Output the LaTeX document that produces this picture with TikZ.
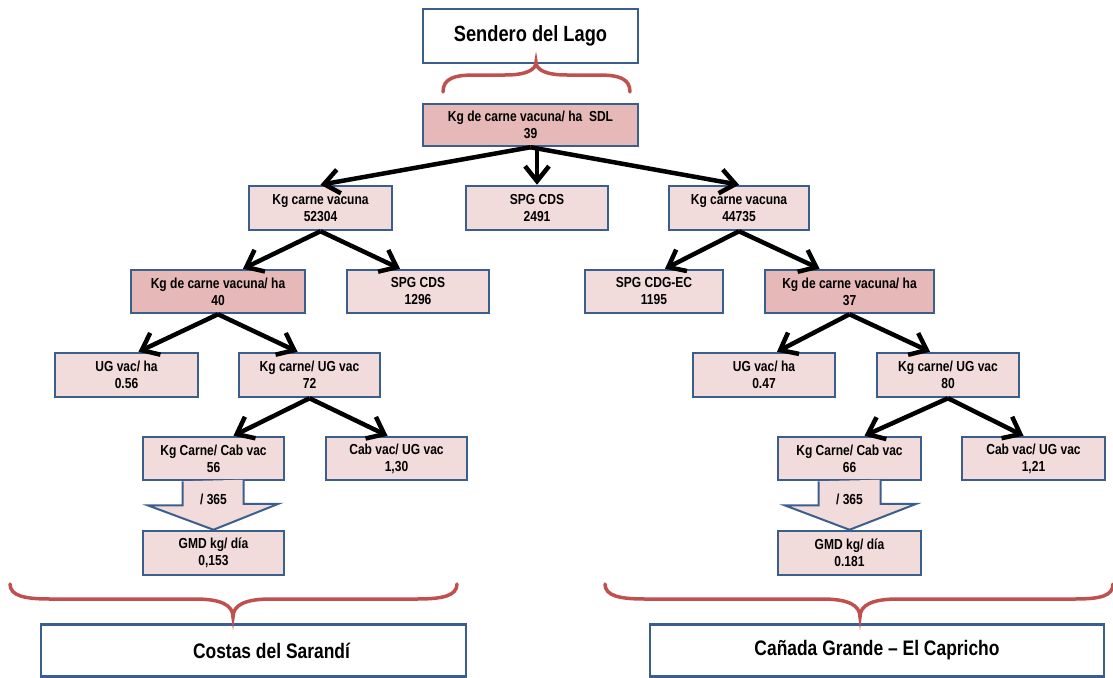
\documentclass[tikz,border=0pt]{standalone}
\usepackage{fontspec}
\setmainfont{Liberation Sans}[FakeStretch=0.83]
\usepackage{tikz}
\usetikzlibrary{arrows.meta,calc}
\definecolor{boxblue}{HTML}{3A5F8E}
\definecolor{pinklt}{HTML}{F2DCDB}
\definecolor{pinkdk}{HTML}{E6B9B8}
\definecolor{bracered}{HTML}{C0504D}

\begin{document}
\begin{tikzpicture}[x=1pt,y=-1pt,
 nodes={rectangle,draw=boxblue,line width=2.5pt,align=center,inner sep=0pt,font=\fontsize{14.5}{17}\selectfont\bfseries},
 cell/.style={fill=pinklt,minimum width=142pt,minimum height=44pt},
 key/.style={fill=pinkdk,minimum height=43pt},
 farm/.style={fill=white,minimum height=52pt,font=\fontsize{21}{24}\selectfont\bfseries},
 arr/.style={draw=black,line width=4.5pt,-{Straight Barb[length=15pt,width=24pt]}},
 brc/.style={draw=bracered,line width=3.5pt,line cap=round},
 blk/.style={draw=boxblue,fill=pinklt,line width=2pt,line join=miter}]
\useasboundingbox (0,0) rectangle (1113,677);

\node[farm,minimum width=215pt,minimum height=54pt,font=\fontsize{22}{24}\selectfont\bfseries] (sdl) at (530.5,36) {Sendero del Lago};
\node[key,minimum width=215pt,minimum height=42pt] (sdlkg) at (530.5,125) {Kg de carne vacuna/ ha\ \ SDL\\39};

\node[cell,minimum width=143pt] (cdskg) at (320.5,208) {Kg carne vacuna\\52304};
\node[cell] (spg) at (537,208) {SPG CDS\\2491};
\node[cell,minimum width=140pt] (cgkg) at (739,208) {Kg carne vacuna\\44735};

\node[key,minimum width=174pt] (cdsha) at (218,291.5) {Kg de carne vacuna/ ha\\40};
\node[cell,minimum height=43pt] (cdsspg) at (418,291.5) {SPG CDS\\1296};
\node[cell,minimum width=138pt,minimum height=43pt] (cgspg) at (654,291.5) {SPG CDG-EC\\1195};
\node[key,minimum width=169pt] (cgha) at (849.5,291.5) {Kg de carne vacuna/ ha\\37};

\node[cell,minimum width=143pt] (cdsug) at (126.5,375) {UG vac/ ha\\0.56};
\node[cell,minimum width=141pt] (cdskgug) at (309.5,375) {Kg carne/ UG vac\\72};
\node[cell] (cgug) at (764,375) {UG vac/ ha\\0.47};
\node[cell] (cgkgug) at (948,375) {Kg carne/ UG vac\\80};

\node[cell,minimum width=141pt,minimum height=43pt] (cdscab) at (213.5,458.5) {Kg Carne/ Cab vac\\56};
\node[cell,minimum width=141pt,minimum height=43pt] (cdscabug) at (396.5,458.5) {Cab vac/ UG vac\\1,30};
\node[cell,minimum width=143pt,minimum height=43pt] (cgcab) at (849.5,458.5) {Kg Carne/ Cab vac\\66};
\node[cell,minimum width=143pt,minimum height=43pt] (cgcabug) at (1033.5,458.5) {Cab vac/ UG vac\\1,21};

\node[cell,minimum width=141pt] (cdsgmd) at (213.5,553) {GMD kg/ día\\0,153};
\node[cell,minimum width=143pt] (cggmd) at (849.5,553) {GMD kg/ día\\0.181};

\node[farm,minimum width=425pt] (cds) at (253.5,650.5) {\hspace*{36pt}Costas del Sarandí};
\node[farm,minimum width=454pt] (cg) at (877,650.5) {Cañada Grande – El Capricho};

% flechas
\draw[arr] (sdlkg.south) -- (cdskg.north);
\draw[arr] (sdlkg.south -| spg.north) -- (spg.north);
\draw[arr] (sdlkg.south) -- (cgkg.north);
\draw[arr] (cdskg.south) -- ([xshift=25pt]cdsha.north);
\draw[arr] (cdskg.south) -- ([xshift=-18pt]cdsspg.north);
\draw[arr] (cgkg.south) -- ([xshift=11pt]cgspg.north);
\draw[arr] (cgkg.south) -- ([xshift=-30pt]cgha.north);
\draw[arr] (cdsha.south) -- ([xshift=12pt]cdsug.north);
\draw[arr] (cdsha.south) -- ([xshift=-12pt]cdskgug.north);
\draw[arr] (cgha.south) -- ([xshift=13pt]cgug.north);
\draw[arr] (cgha.south) -- ([xshift=-18pt]cgkgug.north);
\draw[arr] (cdskgug.south) -- ([xshift=20pt]cdscab.north);
\draw[arr] (cdskgug.south) -- ([xshift=-9pt]cdscabug.north);
\draw[arr] (cgkgug.south) -- ([xshift=15pt]cgcab.north);
\draw[arr] (cgkgug.south) -- ([xshift=-10pt]cgcabug.north);

% /365
\draw[blk] ($(cdscab.south)+(-31,0)$) -- ++(0,24) -- ++(-35,0) -- (cdsgmd.north) -- ++(65,-26) -- ++(-35,0) -- ++(0,-24);
\node[draw=none] (cdsdiv) at ($(cdscab.south)+(0,18)$) {/ 365};
\draw[blk] ($(cgcab.south)+(-31,0)$) -- ++(0,24) -- ++(-34,0) -- (cggmd.north) -- ++(67,-26) -- ++(-36,0) -- ++(0,-24);
\node[draw=none] (cgdiv) at ($(cgcab.south)+(0,18)$) {/ 365};

% llaves
\draw[brc] (443,92) .. controls (443,78) and (455,75) .. (475,75) -- (505,75) .. controls (526,75) and (536,70) .. (536,62) .. controls (536,70) and (546,75) .. (567,75) -- (598,75) .. controls (618,75) and (630,78) .. (630,92);
\draw[brc] (10,584) .. controls (10,596) and (25,599) .. (50,599) -- (195,599) .. controls (221,599) and (233,605) .. (233,617) .. controls (233,605) and (245,599) .. (271,599) -- (417,599) .. controls (442,599) and (457,596) .. (457,584);
\draw[brc] (605,584) .. controls (605,596) and (620,599) .. (645,599) -- (822,599) .. controls (848,599) and (860,605) .. (860,617) .. controls (860,605) and (872,599) .. (898,599) -- (1075,599) .. controls (1100,599) and (1113,596) .. (1113,584);
\end{tikzpicture}
\end{document}
